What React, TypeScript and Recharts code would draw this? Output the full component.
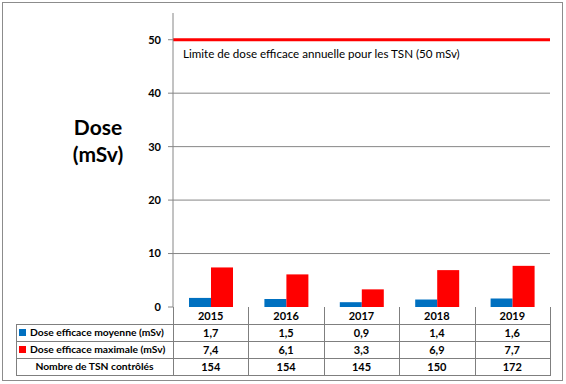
import { BarChart, Bar, XAxis, YAxis, CartesianGrid, ReferenceLine } from "recharts"

const years = ["2015", "2016", "2017", "2018", "2019"]
const doseMoyenne = [1.7, 1.5, 0.9, 1.4, 1.6]
const doseMaximale = [7.4, 6.1, 3.3, 6.9, 7.7]
const nombreTsn = [154, 154, 145, 150, 172]
const yTicks = [0, 10, 20, 30, 40, 50]
const limite = 50

const BLUE = "#0070C0"
const RED = "#FF0000"
const GRID = "#868686"
const FONT = "Lato, 'Open Sans', sans-serif"

const data = years.map((year, i) => ({
    year,
    moyenne: doseMoyenne[i],
    maximale: doseMaximale[i],
}))

const rows = [
    { label: "Dose efficace moyenne (mSv)", color: BLUE, values: doseMoyenne.map((v) => v.toFixed(1).replace(".", ",")) },
    { label: "Dose efficace maximale (mSv)", color: RED, values: doseMaximale.map((v) => v.toFixed(1).replace(".", ",")) },
    { label: "Nombre de TSN contrôlés", color: null, values: nombreTsn.map(String) },
]

// plot geometry
const PLOT_LEFT = 173
const PLOT_RIGHT = 550
const PLOT_TOP = 13
const PLOT_BOTTOM = 307
const TABLE_LEFT = 16
const ROW_H = 17
const band = (PLOT_RIGHT - PLOT_LEFT) / years.length

function LimitLabel(props: any) {
    const vb = props.viewBox || {}
    return (
        <text x={(vb.x ?? PLOT_LEFT) + 10} y={(vb.y ?? 40) + 18} fontSize={11.6} fill="#000" fontFamily={FONT}>
            Limite de dose efficace annuelle pour les TSN (50 mSv)
        </text>
    )
}

const line = (style: React.CSSProperties) => (
    <div style={{ position: "absolute", background: "#7f7f7f", ...style }} />
)

function DataTable() {
    const cells: React.ReactNode[] = []
    const colX = years.map((_, i) => PLOT_LEFT + i * band)
    // year row
    years.forEach((y, i) => {
        cells.push(
            <div
                key={"y" + y}
                style={{
                    position: "absolute",
                    left: colX[i],
                    top: PLOT_BOTTOM,
                    width: band,
                    height: ROW_H,
                    lineHeight: ROW_H + "px",
                    textAlign: "center",
                    fontWeight: 700,
                    fontSize: 11,
                }}
            >
                {y}
            </div>
        )
    })
    rows.forEach((r, ri) => {
        const top = PLOT_BOTTOM + ROW_H * (ri + 1)
        cells.push(
            <div
                key={"l" + ri}
                style={{
                    position: "absolute",
                    left: TABLE_LEFT,
                    top,
                    width: PLOT_LEFT - TABLE_LEFT,
                    height: ROW_H,
                    lineHeight: ROW_H + "px",
                    fontSize: 10.3,
                    fontWeight: 700,
                    whiteSpace: "nowrap",
                    textAlign: r.color ? "left" : "center",
                    paddingLeft: r.color ? 3 : 0,
                    boxSizing: "border-box",
                }}
            >
                {r.color && (
                    <span
                        style={{
                            display: "inline-block",
                            width: 7,
                            height: 7,
                            background: r.color,
                            marginRight: 4,
                            verticalAlign: "0px",
                        }}
                    />
                )}
                {r.label}
            </div>
        )
        r.values.forEach((v, i) => {
            cells.push(
                <div
                    key={"v" + ri + i}
                    style={{
                        position: "absolute",
                        left: colX[i],
                        top,
                        width: band,
                        height: ROW_H,
                        lineHeight: ROW_H + "px",
                        textAlign: "center",
                        fontWeight: 700,
                        fontSize: 11,
                    }}
                >
                    {v}
                </div>
            )
        })
    })
    const lines: React.ReactNode[] = []
    for (let k = 1; k <= rows.length + 1; k++) {
        const y = PLOT_BOTTOM + ROW_H * k
        lines.push(<div key={"h" + k}>{line({ left: TABLE_LEFT, top: y, width: PLOT_RIGHT - TABLE_LEFT + 1, height: 1 })}</div>)
    }
    lines.push(<div key="vl">{line({ left: TABLE_LEFT, top: PLOT_BOTTOM + ROW_H, width: 1, height: ROW_H * rows.length })}</div>)
    for (let i = 0; i <= years.length; i++) {
        lines.push(
            <div key={"v" + i}>
                {line({ left: Math.round(PLOT_LEFT + i * band), top: PLOT_BOTTOM, width: 1, height: ROW_H * (rows.length + 1) })}
            </div>
        )
    }
    return (
        <>
            {lines}
            {cells}
        </>
    )
}

export default function App() {
    return (
        <div
            style={{
                position: "absolute",
                left: 0,
                top: 0,
                width: 566,
                height: 384,
                background: "#fff",
                fontFamily: FONT,
                color: "#000",
            }}
        >
            <div
                style={{
                    position: "absolute",
                    left: 2,
                    top: 2,
                    width: 559,
                    height: 377,
                    border: "1px solid #8c8c8c",
                }}
            />
            <div style={{ position: "absolute", left: 0, top: 0 }}>
                <BarChart
                    width={566}
                    height={384}
                    data={data}
                    margin={{ top: PLOT_TOP, right: 566 - PLOT_RIGHT, bottom: 384 - PLOT_BOTTOM, left: 0 }}
                    barGap={0}
                    barSize={22}
                >
                    <CartesianGrid vertical={false} stroke={GRID} horizontalValues={[10, 20, 30, 40]} />
                    <XAxis dataKey="year" tick={false} tickLine={false} height={0} axisLine={{ stroke: GRID }} />
                    <YAxis
                        width={PLOT_LEFT}
                        domain={[0, 55]}
                        ticks={yTicks}
                        interval={0}
                        tickSize={5}
                        tickMargin={7}
                        axisLine={{ stroke: GRID }}
                        tickLine={{ stroke: GRID }}
                        tick={{ fill: "#000", fontSize: 11, fontWeight: 700, fontFamily: FONT }}
                    />
                    <Bar dataKey="moyenne" fill={BLUE} isAnimationActive={false} />
                    <Bar dataKey="maximale" fill={RED} isAnimationActive={false} />
                    <ReferenceLine y={limite} stroke={RED} strokeWidth={3} label={<LimitLabel />} ifOverflow="extendDomain" />
                </BarChart>
            </div>
            <DataTable />
            <div
                style={{
                    position: "absolute",
                    left: 40,
                    top: 113,
                    width: 116,
                    textAlign: "center",
                    fontSize: 21,
                    fontWeight: 700,
                    lineHeight: "27px",
                }}
            >
                Dose
                <br />
                (mSv)
            </div>
        </div>
    )
}
